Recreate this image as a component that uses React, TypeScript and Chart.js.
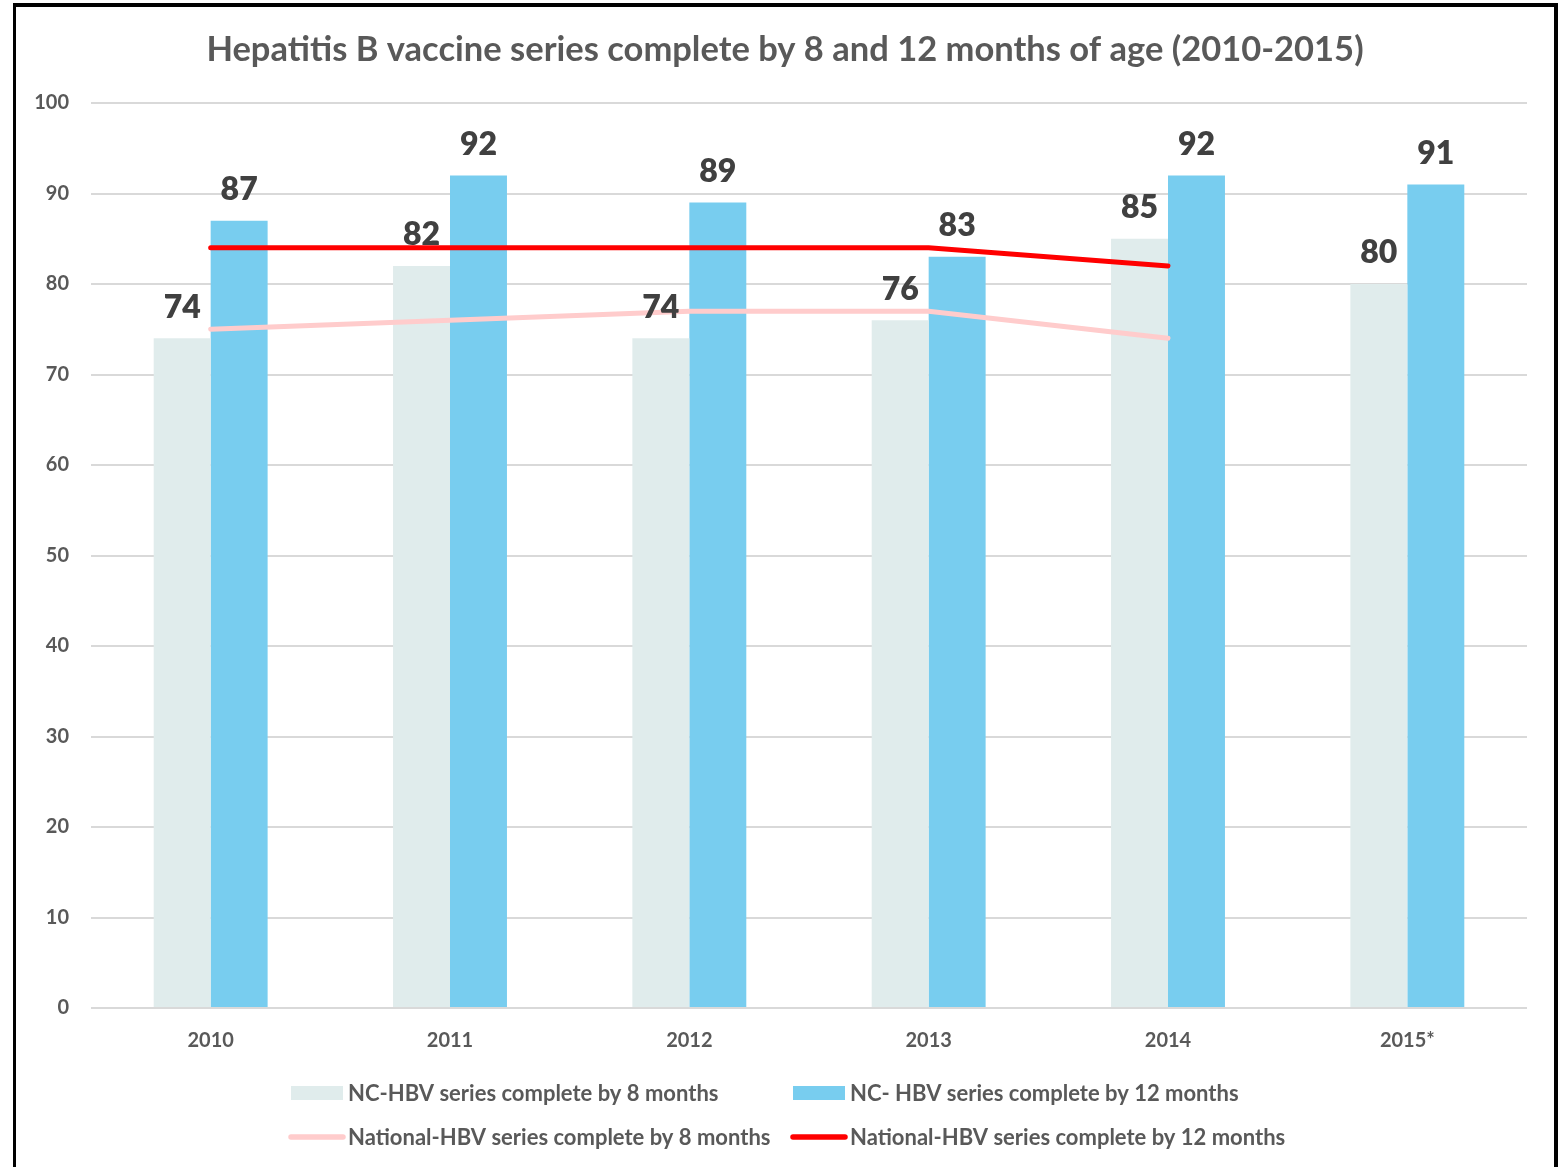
import React, { useEffect, useRef } from "react";
import { Chart, registerables } from "chart.js";

Chart.register(...registerables);

// Chart data
const years = ["2010", "2011", "2012", "2013", "2014", "2015*"];
const ncBy8Months = [74, 82, 74, 76, 85, 80];
const ncBy12Months = [87, 92, 89, 83, 92, 91];
const nationalBy8Months = [75, 76, 77, 77, 74, null];
const nationalBy12Months = [84, 84, 84, 84, 82, null];

const seriesNames = [
  "NC-HBV series complete by 8 months",
  "NC- HBV series complete by 12 months",
  "National-HBV series complete by 8 months",
  "National-HBV series complete by 12 months",
];

const chartTitle =
  "Hepatitis B vaccine series complete by 8 and 12 months of age (2010-2015)";

const FONT = "Lato, 'Open Sans', sans-serif";
const TEXT_GRAY = "#595959";
const LABEL_DARK = "#404040";
const GRAY_BAR = "#E0ECEC";
const BLUE_BAR = "#78CDEF";
const PINK_LINE = "#FFCCCC";
const RED_LINE = "#FF0000";

// Title, bar value labels and a two-column legend drawn onto the canvas
const decorations = {
  id: "decorations",
  afterDatasetsDraw(chart: any) {
    const ctx = chart.ctx;
    ctx.save();
    // bar value labels
    ctx.font = `800 32px ${FONT}`;
    ctx.fillStyle = LABEL_DARK;
    ctx.textAlign = "center";
    ctx.textBaseline = "middle";
    chart.data.datasets.forEach((ds: any, i: number) => {
      if (ds.type !== "bar") return;
      const meta = chart.getDatasetMeta(i);
      meta.data.forEach((bar: any, j: number) => {
        const v = ds.data[j];
        if (v == null) return;
        ctx.fillText(String(v), bar.x, bar.y - 31);
      });
    });
    ctx.restore();
  },
  afterDraw(chart: any) {
    const ctx = chart.ctx;
    ctx.save();
    // title
    ctx.font = `bold 34.5px ${FONT}`;
    ctx.fillStyle = TEXT_GRAY;
    ctx.textAlign = "center";
    ctx.textBaseline = "middle";
    ctx.fillText(chartTitle, 785, 50);

    // legend
    const cols = [291, 793];
    const rows = [1093, 1137];
    ctx.font = `bold 22px ${FONT}`;
    ctx.textAlign = "left";
    [0, 1, 2, 3].forEach((dsIndex, k) => {
      const ds = chart.data.datasets[dsIndex];
      const x = cols[k % 2];
      const y = rows[Math.floor(k / 2)];
      if (ds.type === "bar") {
        ctx.fillStyle = ds.backgroundColor;
        ctx.fillRect(x, y - 7, 52, 14);
      } else {
        ctx.strokeStyle = ds.borderColor;
        ctx.lineWidth = 5.5;
        ctx.lineCap = "round";
        ctx.beginPath();
        ctx.moveTo(x, y);
        ctx.lineTo(x + 52, y);
        ctx.stroke();
      }
      ctx.fillStyle = TEXT_GRAY;
      ctx.fillText(ds.label, x + 57, y + 1);
    });
    ctx.restore();
  },
};

export default function App() {
  const canvasRef = useRef<HTMLCanvasElement | null>(null);

  useEffect(() => {
    if (!canvasRef.current) return;
    const chart = new Chart(canvasRef.current, {
      type: "bar",
      data: {
        labels: years,
        datasets: [
          {
            type: "bar",
            label: seriesNames[0],
            data: ncBy8Months,
            backgroundColor: GRAY_BAR,
            order: 2,
          },
          {
            type: "bar",
            label: seriesNames[1],
            data: ncBy12Months,
            backgroundColor: BLUE_BAR,
            order: 2,
          },
          {
            type: "line",
            label: seriesNames[2],
            data: nationalBy8Months,
            borderColor: PINK_LINE,
            backgroundColor: PINK_LINE,
            borderWidth: 5,
            pointRadius: 0,
            borderCapStyle: "round",
            tension: 0,
            spanGaps: false,
            order: 1,
          },
          {
            type: "line",
            label: seriesNames[3],
            data: nationalBy12Months,
            borderColor: RED_LINE,
            backgroundColor: RED_LINE,
            borderWidth: 5,
            pointRadius: 0,
            borderCapStyle: "round",
            tension: 0,
            spanGaps: false,
            order: 0,
          },
        ] as any,
      },
      options: {
        responsive: false,
        animation: false,
        devicePixelRatio: 1,
        categoryPercentage: 0.476,
        barPercentage: 1,
        layout: { padding: { left: 0, right: 41, top: 103, bottom: 119 } },
        plugins: {
          legend: { display: false },
          title: { display: false },
          tooltip: { enabled: false },
        },
        scales: {
          x: {
            grid: { display: false, drawTicks: false },
            border: { display: false },
            ticks: {
              color: TEXT_GRAY,
              font: { family: FONT, size: 20, weight: "bold" },
              padding: 21,
            },
            afterFit(scale: any) {
              scale.height = 40;
            },
          },
          y: {
            min: 0,
            max: 100,
            grid: { color: "#D9D9D9", lineWidth: 2, drawTicks: false },
            border: { display: false },
            ticks: {
              stepSize: 10,
              color: TEXT_GRAY,
              font: { family: FONT, size: 20, weight: "bold" },
              padding: 22,
            },
            afterFit(scale: any) {
              scale.width = 91;
            },
          },
        },
      } as any,
      plugins: [decorations],
    });
    return () => chart.destroy();
  }, []);

  return (
    <div
      style={{
        position: "absolute",
        left: 0,
        top: 0,
        width: 1568,
        height: 1167,
        background: "#fff",
        overflow: "hidden",
      }}
    >
      <canvas
        ref={canvasRef}
        width={1568}
        height={1167}
        style={{ position: "absolute", left: 0, top: 0 }}
      />
      <div
        style={{
          position: "absolute",
          left: 13,
          top: 3,
          width: 1545,
          height: 1200,
          border: "3px solid #000",
          borderTopWidth: 4,
          borderRightWidth: 4,
          boxSizing: "border-box",
          pointerEvents: "none",
        }}
      />
    </div>
  );
}
